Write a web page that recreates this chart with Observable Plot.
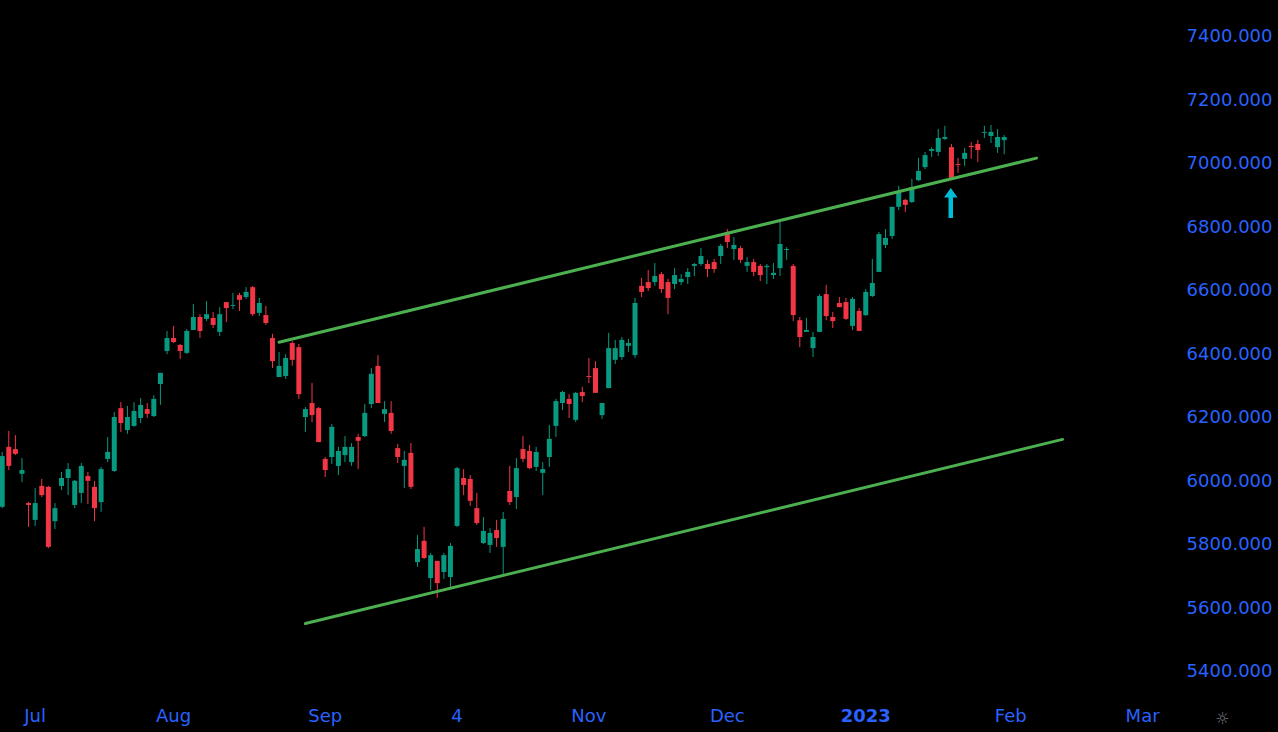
<!DOCTYPE html>
<html><head><meta charset="utf-8">
<script src="https://cdn.jsdelivr.net/npm/d3@7"></script>
<script src="https://cdn.jsdelivr.net/npm/@observablehq/plot@0.6"></script>
<style>html,body{margin:0;padding:0;background:#000;overflow:hidden}</style>
</head><body><div id="chart"></div>
<script>
// Daily candles (bar index = position in array), late Jun 2022 – Jan 2023
const open = [5917,6106,6099,6021,5929,5876,5983,5980,5872,5983,
6008,5923,5961,6014,5980,5932,6068,6030,6228,6159,
6172,6197,6225,6203,6304,6408,6449,6427,6402,6474,
6515,6509,6512,6468,6562,6550,6584,6578,6609,6528,
6521,6449,6326,6329,6433,6420,6200,6244,6228,6068,
6074,6046,6080,6058,6137,6140,6241,6361,6210,6213,
6102,6046,6087,5743,5810,5693,5747,5712,5696,5857,
6008,6005,5913,5803,5797,5844,5791,5967,5948,6099,
6093,6043,6024,6074,6172,6244,6257,6191,6279,6329,
6354,6206,6291,6380,6389,6424,6395,6613,6625,6625,
6650,6625,6619,6625,6641,6676,6682,6682,6688,6707,
6783,6729,6732,6676,6688,6676,6672,6647,6669,6726,
6676,6505,6468,6417,6468,6587,6515,6559,6562,6487,
6534,6521,6581,6657,6742,6770,6862,6884,6877,6946,
6987,7038,7035,7076,7050,6997,7013,7054,7060,7095,
7085,7050,7072];
const high = [6090,6156,6143,6071,5932,5976,6005,5983,5929,6027,
6055,6002,6055,6027,5999,6043,6137,6216,6247,6235,
6247,6260,6244,6269,6339,6471,6487,6430,6477,6556,
6524,6565,6531,6546,6562,6591,6591,6609,6613,6575,
6550,6462,6405,6398,6439,6430,6232,6307,6232,6074,
6178,6106,6140,6118,6147,6241,6354,6395,6250,6250,
6115,6093,6118,5828,5854,5772,5747,5772,5803,6043,
6036,6017,5961,5885,5850,5876,5901,6046,6071,6140,
6112,6106,6058,6175,6257,6282,6272,6279,6295,6386,
6376,6244,6465,6443,6452,6446,6575,6638,6663,6685,
6657,6635,6669,6650,6669,6685,6732,6695,6698,6745,
6792,6767,6739,6704,6698,6682,6682,6685,6820,6735,
6682,6515,6512,6468,6587,6616,6531,6578,6575,6578,
6543,6603,6698,6783,6792,6862,6928,6887,6950,7016,
7035,7050,7107,7117,7060,7016,7047,7066,7073,7117,
7120,7107,7088];
const low = [5913,6033,6080,5995,5854,5857,5948,5787,5847,5970,
5954,5913,5929,5926,5872,5901,6058,6027,6153,6147,
6169,6181,6197,6200,6238,6398,6433,6383,6398,6474,
6449,6502,6480,6455,6499,6540,6534,6572,6518,6518,
6490,6354,6326,6320,6361,6257,6153,6184,6121,6011,
6052,6017,6058,6046,6036,6137,6228,6244,6184,6147,
6055,5976,5973,5728,5753,5655,5630,5690,5658,5854,
5954,5920,5860,5800,5772,5791,5706,5923,5910,6058,
6036,6030,5954,6043,6137,6222,6197,6184,6247,6307,
6276,6194,6291,6367,6380,6405,6386,6578,6597,6613,
6591,6524,6603,6616,6619,6644,6676,6641,6654,6682,
6732,6695,6685,6657,6644,6628,6619,6635,6644,6695,
6502,6420,6468,6389,6468,6505,6480,6546,6505,6474,
6471,6518,6578,6657,6732,6761,6852,6846,6874,6943,
6981,7019,7022,7072,6953,6969,6991,7013,7003,7079,
7063,7032,7028];
const close = [6077,6046,6084,6033,5923,5929,5954,5791,5913,6008,
6036,5999,6046,5999,5913,6036,6090,6200,6181,6200,
6219,6238,6210,6257,6339,6449,6436,6408,6471,6515,
6471,6524,6490,6524,6543,6553,6569,6594,6524,6559,
6496,6376,6361,6386,6380,6272,6225,6206,6121,6033,
6169,6093,6106,6106,6125,6213,6336,6244,6225,6156,
6074,6065,5980,5784,5756,5765,5677,5765,5794,6039,
5986,5936,5866,5841,5835,5819,5879,5932,6039,6068,
6039,6090,6036,6131,6250,6279,6241,6276,6266,6326,
6276,6244,6417,6417,6443,6433,6559,6594,6606,6644,
6603,6575,6647,6635,6657,6682,6707,6666,6666,6739,
6751,6742,6695,6688,6657,6647,6676,6654,6745,6729,
6521,6452,6474,6452,6581,6518,6502,6546,6509,6572,
6471,6594,6622,6776,6764,6862,6909,6868,6924,6975,
7025,7044,7079,7082,6953,6994,7032,7050,7041,7098,
7098,7082,7082];

// Axis ticks
const monthTickBars = [5, 26, 49, 69, 89, 110, 131, 153, 173];
const monthTickLabels = ["Jul", "Aug", "Sep", "4", "Nov", "Dec", "2023", "Feb", "Mar"];
const monthTickBold = [false, false, false, false, false, false, true, false, false];
const priceTicks = [5400, 5600, 5800, 6000, 6200, 6400, 6600, 6800, 7000, 7200, 7400];

// Drawn channel lines (bar index, price)
const channelStartBar = [42, 46];
const channelStartPrice = [6437, 5551];
const channelEndBar = [156.9, 160.85];
const channelEndPrice = [7017, 6131];

// Signal arrow
const signalBar = [143.9];
const signalPrice = [6876];

const UP = "#089981", DOWN = "#f23645", BLUE = "#2962ff", CHANNEL = "#4caf50", ARROW = "#00bcd4";

const rows = open.map((o, i) => ({bar: i, open: o, high: high[i], low: low[i], close: close[i]}));
const candleColor = d => d.close >= d.open ? UP : DOWN;

const arrowUp = {
  draw(ctx, size) {
    const r = Math.sqrt(size / Math.PI);
    const hw = r * 0.45, sw = r * 0.15, hb = -r * 0.36;
    ctx.moveTo(0, -r);
    ctx.lineTo(hw, hb);
    ctx.lineTo(sw, hb);
    ctx.lineTo(sw, r);
    ctx.lineTo(-sw, r);
    ctx.lineTo(-sw, hb);
    ctx.lineTo(-hw, hb);
    ctx.closePath();
  }
};

const idx = d3.range(monthTickBars.length);
const chart = Plot.plot({
  width: 1278, height: 732,
  marginLeft: 0, marginRight: 103, marginTop: 0, marginBottom: 32,
  style: {background: "#000", fontFamily: "DejaVu Sans", overflow: "visible"},
  x: {type: "linear", domain: [-0.258, 177.99], axis: null},
  y: {domain: [5308.7, 7513.4], axis: null},
  color: {type: "identity"},
  marks: [
    Plot.ruleX(rows, {x: "bar", y1: "low", y2: "high", stroke: candleColor, strokeWidth: 1}),
    Plot.ruleX(rows, {x: "bar", y1: "open", y2: "close", stroke: candleColor, strokeWidth: 5}),
    Plot.link(d3.range(channelStartBar.length), {
      x1: i => channelStartBar[i], y1: i => channelStartPrice[i],
      x2: i => channelEndBar[i], y2: i => channelEndPrice[i],
      stroke: CHANNEL, strokeWidth: 3, strokeLinecap: "round"
    }),
    Plot.dot(d3.range(signalBar.length), {
      x: i => signalBar[i], y: i => signalPrice[i], r: 15, symbol: arrowUp, fill: ARROW, stroke: null
    }),
    Plot.text(priceTicks, {
      y: d => d, text: d => d.toFixed(3), frameAnchor: "right", dx: 97, textAnchor: "end",
      fill: BLUE, fontSize: 18
    }),
    Plot.text(idx.filter(i => !monthTickBold[i]), {
      x: i => monthTickBars[i], text: i => monthTickLabels[i], frameAnchor: "bottom", dy: 21,
      fill: BLUE, fontSize: 18
    }),
    Plot.text(idx.filter(i => monthTickBold[i]), {
      x: i => monthTickBars[i], text: i => monthTickLabels[i], frameAnchor: "bottom", dy: 21,
      fill: BLUE, fontSize: 18, fontWeight: "bold"
    }),
    Plot.text(["\u263C"], {frameAnchor: "bottom-right", dx: 54, dy: 23, fill: "#787b86", fontSize: 16})
  ]
});
document.getElementById("chart").appendChild(chart);
</script>
</body></html>
